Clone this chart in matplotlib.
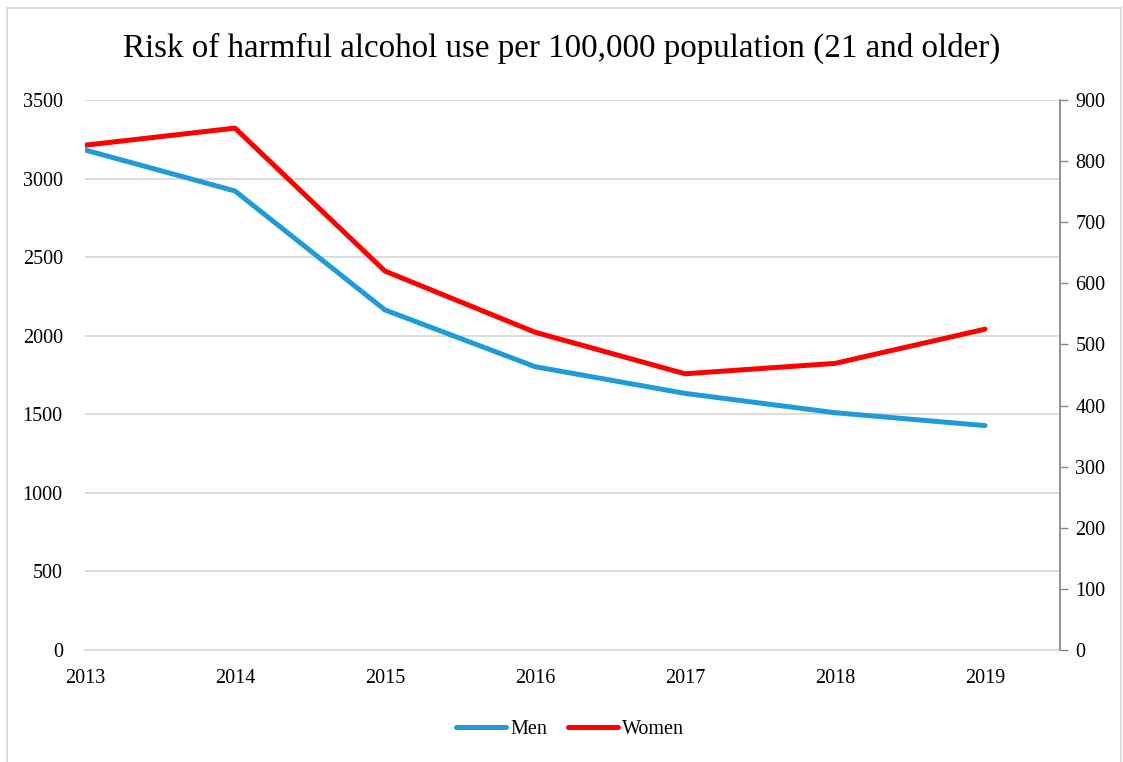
import matplotlib.pyplot as plt
from matplotlib.patches import Rectangle

years = ["2013", "2014", "2015", "2016", "2017", "2018", "2019"]
men = [3182, 2921, 2164, 1803, 1633, 1510, 1428]
women = [826, 854, 620, 520, 452, 469, 525]

left_ticks = [0, 500, 1000, 1500, 2000, 2500, 3000, 3500]
right_ticks = [0, 100, 200, 300, 400, 500, 600, 700, 800, 900]

plt.rcParams["font.family"] = ["Liberation Serif", "DejaVu Serif"]

fig = plt.figure(figsize=(11.23, 7.62), dpi=100)
ax = fig.add_axes([85 / 1123, 1 - 650 / 762, 975 / 1123, 550 / 762])
ax2 = ax.twinx()

x = list(range(len(years)))
l1, = ax.plot(x, men, color="#1F9BD7", linewidth=3.6, solid_capstyle="round", label="Men")
l2, = ax2.plot(x, women, color="#FF0000", linewidth=3.6, solid_capstyle="round", label="Women")

ax.set_xlim(0, len(years) - 0.5)
ax.set_ylim(0, 3500)
ax2.set_ylim(0, 900)
ax.set_xticks(x)
ax.set_xticklabels(years)
ax.set_yticks(left_ticks)
ax.tick_params(axis="y", length=0, pad=16, labelsize=14.5)
ax.tick_params(axis="x", length=0, pad=14, labelsize=14.5)
ax.grid(axis="y", color="#D9D9D9", linewidth=1.3)
ax.set_axisbelow(True)

for s in ["top", "left", "right"]:
    ax.spines[s].set_visible(False)
ax.spines["bottom"].set_color("#D9D9D9")
ax.spines["bottom"].set_linewidth(1.3)

ax2.set_yticks(right_ticks)
ax2.tick_params(axis="y", length=6, width=1, color="#898989", pad=5, labelsize=14.5)
for s in ["top", "left", "bottom"]:
    ax2.spines[s].set_visible(False)
ax2.spines["right"].set_color("#898989")
ax2.spines["right"].set_linewidth(1.3)

fig.text(0.5, 1 - 48 / 762, "Risk of harmful alcohol use per 100,000 population (21 and older)",
         ha="center", va="center", fontsize=23.8)

fig.legend(handles=[l1, l2], loc="center", bbox_to_anchor=(570 / 1123, 1 - 729 / 762),
           ncol=2, frameon=False, fontsize=14.5, handlelength=2.5, handletextpad=0.2,
           columnspacing=1.0)

fig.patches.append(Rectangle((7 / 1123, -0.05), 1114 / 1123, 1.05 - 8 / 762,
                             transform=fig.transFigure, fill=False,
                             edgecolor="#D9D9D9", linewidth=1.3))

fig.savefig("out.png", dpi=100)
